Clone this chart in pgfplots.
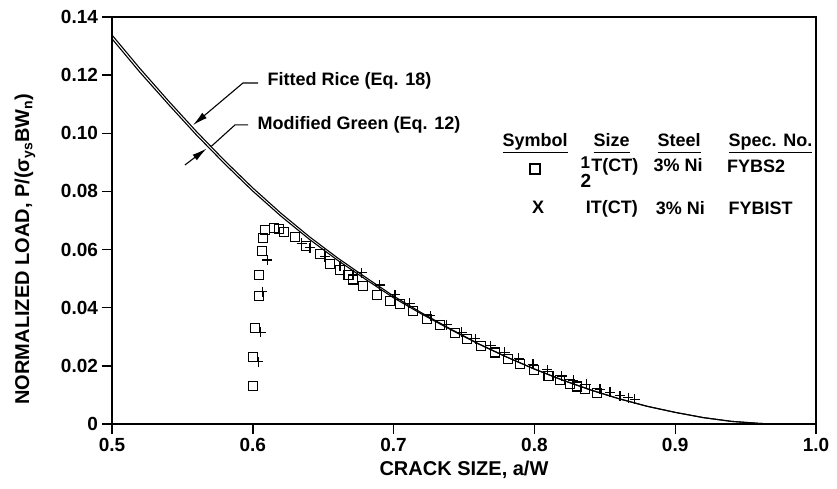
\documentclass[border=0pt]{standalone}
\usepackage{pgfplots}
\pgfplotsset{compat=1.18}
\usepackage{fontspec}
\setmainfont{Liberation Sans}
\usetikzlibrary{arrows.meta}
\newcommand\F{\fontsize{18}{21}\selectfont\bfseries}
\newcommand\ul[1]{\underline{#1\vphantom{y}}}

\pgfplotstableread{
x y
0.50 0.1338
0.52 0.1222
0.54 0.1112
0.56 0.1006
0.58 0.0906
0.60 0.0812
0.62 0.0725
0.64 0.0645
0.66 0.0572
0.68 0.0505
0.70 0.0440
0.72 0.0382
0.74 0.0328
0.76 0.0277
0.78 0.0231
0.80 0.0189
0.82 0.0151
0.84 0.0117
0.86 0.0087
0.88 0.0061
0.90 0.0040
0.92 0.0022
0.94 0.0009
0.96 0.0002
0.97 0.0000
}\rice

\pgfplotstableread{
x y
0.50 0.1325
0.52 0.1209
0.54 0.1100
0.56 0.0994
0.58 0.0895
0.60 0.0801
0.62 0.0715
0.64 0.0636
0.66 0.0564
0.68 0.0498
0.70 0.0434
0.72 0.0378
0.74 0.0326
0.76 0.0276
0.78 0.0231
0.80 0.0189
0.82 0.0151
0.84 0.0117
0.86 0.0087
0.88 0.0061
0.90 0.0040
0.92 0.0022
0.94 0.0009
0.96 0.0002
0.97 0.0000
}\green

\pgfplotstableread{
x y
0.6000 0.0132
0.6000 0.0232
0.6015 0.0329
0.6044 0.0440
0.6044 0.0513
0.6063 0.0596
0.6075 0.0639
0.6087 0.0668
0.6153 0.0675
0.6189 0.0671
0.6224 0.0659
0.6300 0.0644
0.6375 0.0612
0.6477 0.0585
0.6548 0.0550
0.6620 0.0530
0.6680 0.0512
0.6714 0.0497
0.6785 0.0474
0.6880 0.0445
0.6974 0.0423
0.7045 0.0412
0.7140 0.0388
0.7235 0.0362
0.7330 0.0340
0.7436 0.0314
0.7520 0.0293
0.7620 0.0268
0.7720 0.0246
0.7810 0.0225
0.7900 0.0205
0.8000 0.0185
0.8100 0.0166
0.8180 0.0151
0.8253 0.0138
0.8300 0.0129
0.8360 0.0119
0.8442 0.0106
}\squares

\pgfplotstableread{
x y
0.6039 0.0214
0.6056 0.0316
0.6068 0.0455
0.6103 0.0564
0.6347 0.0622
0.6406 0.0607
0.6513 0.0576
0.6619 0.0545
0.6773 0.0520
0.6903 0.0478
0.7010 0.0444
0.7116 0.0416
0.7259 0.0372
0.7377 0.0342
0.7484 0.0316
0.7580 0.0294
0.7690 0.0269
0.7790 0.0246
0.7890 0.0226
0.7990 0.0206
0.8090 0.0186
0.8194 0.0165
0.8276 0.0151
0.8370 0.0136
0.8466 0.0120
0.8537 0.0109
0.8608 0.0098
0.8667 0.0090
0.8714 0.0085
}\pluses

\begin{document}
\begin{tikzpicture}[x=1pt,y=1pt]
\begin{axis}[
  at={(0,0)}, anchor=south west,
  width=704pt, height=407pt, scale only axis,
  xmin=0.5, xmax=1.0, ymin=0, ymax=0.14,
  xtick={0.5,0.6,0.7,0.8,0.9,1.0},
  xticklabels={0.5,0.6,0.7,0.8,0.9,1.0},
  ytick={0,0.02,0.04,0.06,0.08,0.10,0.12,0.14},
  yticklabels={0,0.02,0.04,0.06,0.08,0.10,0.12,0.14},
  tick align=outside, xtick pos=bottom, ytick pos=left,
  major tick length=10pt,
  every axis/.append style={line width=1.4pt},
  tick style={line width=1.4pt, black},
  ticklabel style={font=\fontsize{19}{22}\selectfont\bfseries},
  xlabel={CRACK SIZE, a/W},
  ylabel={NORMALIZED LOAD, P/(σ\textsubscript{ys}BW\textsubscript{n})},
  label style={font=\fontsize{20}{23}\selectfont\bfseries},
  xlabel style={at={(axis description cs:0.5,-0.113)}, anchor=center},
  ylabel style={at={(axis description cs:-0.1236,0.43)}, anchor=center},
]
\addplot[black, line width=1.1pt, no marks] table {\rice};
\addplot[black, line width=1.1pt, no marks] table {\green};
\addplot[black, only marks, mark=square, mark size=4.5pt, mark options={line width=1.1pt}] table {\squares};
\addplot[black, only marks, mark=+, mark size=5pt, mark options={line width=1.1pt}] table {\pluses};

% annotations
\node[font=\F, anchor=west, inner sep=0pt] at (axis cs:0.6101,0.1180) {Fitted Rice (Eq. 18)};
\draw[line width=1.1pt, -{Latex[length=15pt,width=7pt]}] (axis cs:0.6037,0.1173) -- (axis cs:0.5930,0.1173) -- (axis cs:0.5575,0.1028);
\node[font=\F, anchor=west, inner sep=0pt] at (axis cs:0.6030,0.1029) {Modified Green (Eq. 12)};
\draw[line width=1.1pt] (axis cs:0.5966,0.1029) -- (axis cs:0.5874,0.1029) -- (axis cs:0.5705,0.0955);
\draw[line width=1.1pt, -{Latex[length=15pt,width=7pt]}] (axis cs:0.5518,0.0891) -- (axis cs:0.5673,0.0948);

% legend table
\node[font=\F, anchor=base west, inner sep=0pt] at (axis cs:0.7770,0.0954) {\ul{Symbol}};
\node[font=\F, anchor=base west, inner sep=0pt] at (axis cs:0.8416,0.0954) {\ul{Size}};
\node[font=\F, anchor=base west, inner sep=0pt] at (axis cs:0.8870,0.0954) {\ul{Steel}};
\node[font=\F, anchor=base west, inner sep=0pt] at (axis cs:0.9375,0.0954) {\ul{Spec. No.}};
\node[draw, line width=1.3pt, minimum size=10pt, inner sep=0pt] at (axis cs:0.8004,0.0877) {};
\node[font=\F, anchor=base west, inner sep=0pt] at (axis cs:0.8324,0.0870) {\rlap{\raisebox{3pt}{\fontsize{17}{17}\selectfont 1}}\raisebox{-16pt}{\fontsize{19}{19}\selectfont 2}T(CT)};
\node[font=\F, anchor=base west, inner sep=0pt] at (axis cs:0.8842,0.0868) {3\% Ni};
\node[font=\F, anchor=base west, inner sep=0pt] at (axis cs:0.9364,0.0865) {FYBS2};
\node[font=\F, anchor=center, inner sep=0pt] at (axis cs:0.8026,0.0745) {X};
\node[font=\F, anchor=base west, inner sep=0pt] at (axis cs:0.8360,0.0723) {IT(CT)};
\node[font=\F, anchor=base west, inner sep=0pt] at (axis cs:0.8857,0.0722) {3\% Ni};
\node[font=\F, anchor=base west, inner sep=0pt] at (axis cs:0.9375,0.0720) {FYBIST};
\end{axis}
\pgfresetboundingbox
\path (-112,-64) rectangle (725,424);
\end{tikzpicture}
\end{document}
